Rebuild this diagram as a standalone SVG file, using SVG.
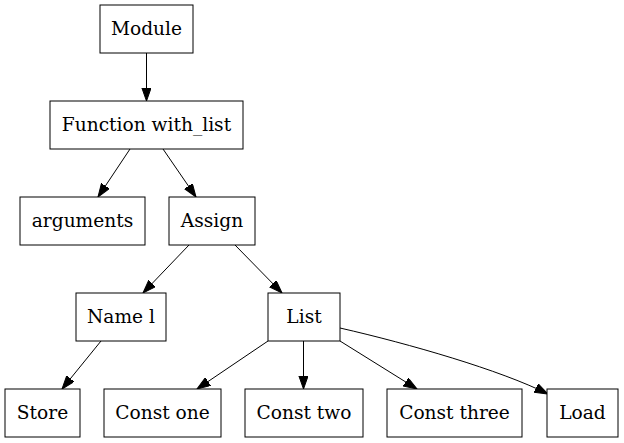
<svg xmlns="http://www.w3.org/2000/svg" width="624" height="443" viewBox="0 0 624 443">
<style>
rect{fill:#fff;stroke:#000;stroke-width:1}
text{font-family:"DejaVu Serif",serif;font-size:18.6px;fill:#000;text-anchor:middle}
.e path{fill:none;stroke:#000;stroke-width:1}
</style>
<defs>
<marker id="ah" markerUnits="userSpaceOnUse" markerWidth="14" markerHeight="10" refX="13.3" refY="4.7" orient="auto" viewBox="0 0 14 10">
<path d="M0,0 L13.3,4.7 L0,9.4 z" fill="#000" stroke="#000" stroke-width="1"/>
</marker>
</defs>
<rect x="0" y="0" width="624" height="443" style="stroke:none"/>
<g class="e">
<path d="M146.5,53 L146.5,101" marker-end="url(#ah)"/>
<path d="M130,149 L98,197" marker-end="url(#ah)"/>
<path d="M163,149 L196,197" marker-end="url(#ah)"/>
<path d="M189,245 L143,293" marker-end="url(#ah)"/>
<path d="M235,245 L282,293" marker-end="url(#ah)"/>
<path d="M101,341 L62,389" marker-end="url(#ah)"/>
<path d="M268,341 L197,389" marker-end="url(#ah)"/>
<path d="M303.5,341 L303.5,389" marker-end="url(#ah)"/>
<path d="M340,341 L417,389" marker-end="url(#ah)"/>
<path d="M340,328 C410,344 500,370 548,394" marker-end="url(#ah)"/>
</g>
<g id="module"><rect x="100" y="5" width="93" height="48"/><text x="146.5" y="35">Module</text></g>
<g id="function"><rect x="50" y="101" width="193" height="48"/><text x="146.5" y="131">Function with_list</text></g>
<g id="arguments"><rect x="20" y="197" width="125" height="48"/><text x="82.5" y="227">arguments</text></g>
<g id="assign"><rect x="169" y="197" width="86" height="48"/><text x="212" y="227">Assign</text></g>
<g id="name"><rect x="76" y="293" width="90" height="48"/><text x="121" y="323">Name l</text></g>
<g id="list"><rect x="268" y="293" width="72" height="48"/><text x="304" y="323">List</text></g>
<g id="store"><rect x="5" y="389" width="75" height="48"/><text x="42.5" y="419">Store</text></g>
<g id="constone"><rect x="104" y="389" width="117" height="48"/><text x="162.5" y="419">Const one</text></g>
<g id="consttwo"><rect x="245" y="389" width="118" height="48"/><text x="304" y="419">Const two</text></g>
<g id="constthree"><rect x="387" y="389" width="135" height="48"/><text x="454.5" y="419">Const three</text></g>
<g id="load"><rect x="547" y="389" width="71" height="48"/><text x="582.5" y="419">Load</text></g>
</svg>
